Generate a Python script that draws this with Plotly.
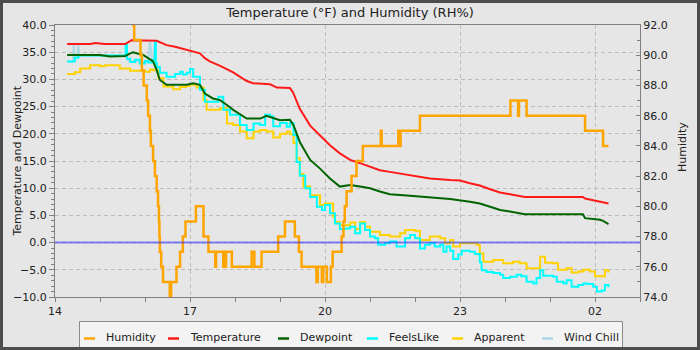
import pandas as pd
import plotly.graph_objects as go

# ---------------- data (hours since midnight of first day) ----------------
HUM_T = [14.27, 15.74, 15.76, 15.90, 15.93, 15.97, 16.04, 16.07, 16.11, 16.13, 16.18, 16.22,
         16.26, 16.29, 16.31, 16.32, 16.33, 16.36, 16.40, 16.55, 16.58, 16.70, 16.78, 16.84,
         16.90, 17.13, 17.30, 17.41, 17.56, 17.58, 17.74, 17.76, 17.78, 17.80, 17.93, 18.37,
         18.43, 18.59, 18.96, 19.11, 19.33, 19.42, 19.48, 19.81, 19.84, 19.93, 19.96, 20.04,
         20.13, 20.17, 20.37, 20.41, 20.44, 20.48, 20.59, 20.70, 20.84, 21.24, 21.26, 21.63,
         21.65, 21.68, 22.11, 24.12, 24.29, 24.31, 24.48, 25.78, 26.18, 26.30]
HUM_V = [95, 92, 91, 90, 89, 88, 87, 86, 85, 84, 83, 82,
         81, 80, 79, 78, 77, 76, 75, 74, 75, 76, 77, 78,
         79, 80, 78, 77, 76, 77, 76, 77, 76, 77, 76, 77,
         76, 77, 78, 79, 78, 77, 76, 75, 76, 75, 76, 75,
         76, 77, 78, 79, 80, 81, 82, 83, 84, 85, 84, 85,
         84, 85, 86, 87, 86, 87, 86, 85, 84, 84]

TEMP_T = [14.27, 14.78, 14.90, 15.10, 15.56, 15.70, 16.26, 16.48, 16.67, 16.93, 17.22, 17.33,
          17.44, 17.67, 17.96, 18.26, 18.40, 18.78, 18.93, 19.22, 19.29, 19.44, 19.67, 19.89,
          20.11, 20.33, 20.56, 20.78, 21.00, 21.22, 21.44, 21.89, 22.33, 22.78, 23.00, 23.22,
          23.44, 23.67, 23.89, 24.11, 24.44, 25.73, 25.78, 25.96, 26.18, 26.30]
TEMP_V = [36.5, 36.5, 36.7, 36.5, 36.5, 37.2, 37.1, 36.3, 36.0, 35.4, 34.8, 33.9,
          33.3, 32.5, 31.3, 29.7, 29.3, 29.1, 28.5, 28.4, 27.6, 24.6, 21.5, 19.7,
          17.9, 16.4, 15.2, 14.6, 14.0, 13.3, 13.0, 12.4, 11.8, 11.5, 11.4, 10.9,
          10.5, 9.8, 9.2, 8.9, 8.4, 8.4, 8.1, 7.8, 7.5, 7.2]

DEW_T = [14.27, 15.00, 15.22, 15.56, 15.73, 15.96, 16.18, 16.26, 16.33, 16.48, 16.93, 17.07,
         17.22, 17.33, 17.51, 17.67, 17.82, 17.96, 18.26, 18.56, 18.70, 19.00, 19.22, 19.30,
         19.44, 19.67, 19.89, 20.11, 20.33, 20.56, 20.78, 21.00, 21.22, 21.44, 21.89, 22.33,
         22.78, 23.22, 23.44, 23.67, 23.89, 24.11, 24.44, 25.73, 25.78, 26.11, 26.18, 26.30]
DEW_V = [34.5, 34.5, 34.2, 34.3, 35.0, 34.5, 33.3, 31.7, 29.9, 29.0, 29.0, 29.3,
         29.0, 27.4, 26.5, 26.2, 25.3, 24.4, 22.8, 22.8, 23.3, 22.5, 22.6, 21.6,
         18.5, 15.2, 13.6, 11.8, 10.3, 10.6, 10.3, 10.0, 9.4, 8.9, 8.6, 8.3,
         8.0, 7.5, 7.2, 6.6, 6.0, 5.7, 5.2, 5.2, 4.5, 4.2, 4.0, 3.4]

FEELS_T = [14.27, 14.38, 14.44, 14.52, 15.56, 15.57, 15.60, 15.67, 15.78, 15.89, 16.00, 16.07,
           16.18, 16.22, 16.24, 16.26, 16.33, 16.48, 16.62, 16.67, 16.78, 16.84, 16.93, 17.00,
           17.07, 17.22, 17.33, 17.52, 17.63, 17.74, 17.89, 18.11, 18.26, 18.41, 18.56, 18.67,
           18.78, 18.85, 19.00, 19.15, 19.22, 19.30, 19.37, 19.44, 19.56, 19.67, 19.82, 19.93,
           20.00, 20.11, 20.22, 20.33, 20.44, 20.56, 20.67, 20.78, 20.89, 21.00, 21.11, 21.18,
           21.33, 21.44, 21.59, 21.78, 21.89, 22.00, 22.11, 22.22, 22.33, 22.44, 22.56, 22.63,
           22.70, 22.78, 22.85, 22.96, 23.04, 23.22, 23.33, 23.44, 23.48, 23.59, 23.74, 23.89,
           23.96, 24.11, 24.26, 24.36, 24.48, 24.63, 24.70, 24.78, 24.85, 25.07, 25.15, 25.30,
           25.37, 25.48, 25.63, 25.74, 25.84, 25.96, 26.04, 26.15, 26.22, 26.30]
FEELS_V = [33.3, 33.3, 34.0, 34.4, 34.4, 36.4, 33.8, 33.2, 33.6, 32.9, 33.4, 33.1,
           33.6, 36.8, 33.0, 32.3, 31.2, 30.5, 30.5, 31.0, 31.4, 30.9, 31.2, 31.9,
           30.5, 28.1, 25.9, 25.9, 26.8, 24.4, 23.5, 21.6, 20.7, 21.9, 21.6, 23.5,
           23.2, 21.4, 22.0, 21.3, 22.0, 19.8, 14.8, 12.3, 10.0, 8.4, 6.6, 6.0,
           6.9, 5.4, 3.5, 2.5, 2.6, 2.9, 1.7, 3.5, 2.3, 1.1, 0.8, -0.4,
           -0.1, 0.2, -0.7, 0.8, 1.4, 0.8, -1.1, -0.4, -0.1, -0.7, -0.4, -1.7,
           -0.7, -1.5, -3.0, -2.2, -1.5, -1.7, -2.1, -3.6, -5.1, -5.4, -5.6, -5.9,
           -6.5, -6.3, -5.9, -6.2, -7.2, -7.5, -6.5, -5.1, -6.1, -6.3, -7.2, -7.5,
           -6.9, -8.1, -7.8, -7.5, -7.6, -8.1, -9.0, -8.8, -7.8, -8.2]

APP_T = [14.27, 14.44, 14.56, 14.78, 15.00, 15.11, 15.22, 15.44, 15.67, 15.89, 16.00, 16.11,
         16.18, 16.30, 16.41, 16.63, 16.78, 16.91, 17.00, 17.15, 17.30, 17.37, 17.59, 17.67,
         17.82, 17.96, 18.11, 18.26, 18.41, 18.56, 18.70, 18.85, 19.00, 19.15, 19.22, 19.30,
         19.37, 19.44, 19.52, 19.67, 19.89, 20.00, 20.18, 20.22, 20.33, 20.44, 20.56, 20.67,
         20.78, 20.89, 21.00, 21.22, 21.44, 21.67, 21.78, 22.00, 22.11, 22.33, 22.56, 22.67,
         22.78, 22.85, 23.00, 23.22, 23.37, 23.44, 23.52, 23.74, 23.96, 24.18, 24.33, 24.48,
         24.67, 24.78, 24.89, 25.07, 25.18, 25.37, 25.48, 25.63, 25.74, 25.89, 26.00, 26.11,
         26.22, 26.30]
APP_V = [31.0, 31.3, 32.0, 32.6, 32.4, 32.6, 32.6, 32.0, 31.6, 31.6, 31.4, 31.8,
         31.7, 30.2, 28.7, 28.2, 28.6, 28.8, 29.0, 28.5, 26.2, 24.4, 24.4, 24.7,
         21.9, 21.6, 20.4, 19.2, 20.4, 20.7, 20.4, 19.3, 20.0, 20.4, 19.9, 18.3,
         15.5, 12.6, 10.3, 8.7, 6.9, 7.2, 4.8, 3.8, 3.2, 3.2, 3.7, 2.5,
         3.8, 2.9, 2.0, 1.4, 1.1, 1.7, 2.3, 2.2, 0.5, 1.1, 0.8, -0.1,
         0.5, -0.7, -0.1, -0.1, -0.4, -2.0, -3.5, -3.2, -3.8, -3.5, -3.8, -4.7,
         -4.7, -2.6, -3.7, -3.8, -5.0, -4.7, -5.5, -5.3, -5.0, -5.3, -6.2, -6.2,
         -5.1, -5.5]

WC_T = [14.27, 14.40, 14.42, 14.43, 14.50, 14.52, 14.54, 15.56, 15.60, 15.67, 15.78, 15.89,
        16.00, 16.07, 16.11, 16.16, 16.20, 16.22, 16.24, 16.26, 16.33]
WC_V = [33.3, 33.3, 36.4, 33.8, 34.3, 36.4, 34.4, 34.4, 33.8, 33.2, 33.6, 32.9,
        33.4, 33.1, 37.0, 33.5, 33.6, 37.0, 33.0, 32.3, 31.2]

LEGEND_NAMES = ["Humidity", "Temperature", "Dewpoint", "FeelsLike", "Apparent", "Wind Chill"]
COLORS = {"Humidity": "#FFA500", "Temperature": "#FF1A1A", "Dewpoint": "#006400",
          "FeelsLike": "#00FFFF", "Apparent": "#FFD200", "Wind Chill": "#ADD8E6"}

BASE = pd.Timestamp("2021-01-14 00:00")


def to_dt(hours):
    return [BASE + pd.Timedelta(hours=h) for h in hours]


fig = go.Figure()
LW = 2
# JFreeChart draws last series first -> add in reverse so Humidity is on top
fig.add_trace(go.Scatter(x=to_dt(WC_T), y=WC_V, mode="lines", name="Wind Chill",
                         line=dict(color=COLORS["Wind Chill"], width=LW)))
fig.add_trace(go.Scatter(x=to_dt(APP_T), y=APP_V, mode="lines", name="Apparent",
                         line=dict(color=COLORS["Apparent"], width=LW, shape="hv")))
fig.add_trace(go.Scatter(x=to_dt(FEELS_T), y=FEELS_V, mode="lines", name="FeelsLike",
                         line=dict(color=COLORS["FeelsLike"], width=LW, shape="hv")))
fig.add_trace(go.Scatter(x=to_dt(DEW_T), y=DEW_V, mode="lines", name="Dewpoint",
                         line=dict(color=COLORS["Dewpoint"], width=LW)))
fig.add_trace(go.Scatter(x=to_dt(TEMP_T), y=TEMP_V, mode="lines", name="Temperature",
                         line=dict(color=COLORS["Temperature"], width=LW)))
fig.add_trace(go.Scatter(x=to_dt(HUM_T), y=HUM_V, mode="lines", name="Humidity", yaxis="y2",
                         line=dict(color=COLORS["Humidity"], width=2.5, shape="hv")))

# ---------------- layout geometry (pixels) ----------------
W, H = 700, 350
L, R, T, B = 55, 60, 25, 53
PW, PH = W - L - R, H - T - B


def px(xp):
    return (xp - L) / PW


def py(yp):
    return (H - B - yp) / PH


FONT = "DejaVu Sans"
AXC = "#808080"
GRID = "#bdbdbd"

shapes = []
# zero marker
shapes.append(dict(type="line", xref="paper", yref="y", x0=0, x1=1, y0=0, y1=0,
                   line=dict(color="rgba(40,40,255,0.55)", width=2), layer="above"))
# legend box
shapes.append(dict(type="rect", xref="paper", yref="paper", x0=px(79.5), x1=px(622.5),
                   y0=py(352), y1=py(321.5), fillcolor="#f3f3f3",
                   line=dict(color="#8a8a8a", width=1), layer="above"))
annotations = []
leg_x = [84, 168, 278, 367, 452, 542]
ly = 338.5
for name, x0 in zip(LEGEND_NAMES, leg_x):
    shapes.append(dict(type="line", xref="paper", yref="paper", x0=px(x0), x1=px(x0 + 11),
                       y0=py(ly), y1=py(ly), line=dict(color=COLORS[name], width=2.5),
                       layer="above"))
    annotations.append(dict(xref="paper", yref="paper", x=px(x0 + 20), y=py(ly - 1),
                            text=name, showarrow=False, xanchor="left", yanchor="middle",
                            font=dict(family=FONT, size=11, color="#222")))
# axis titles as rotated annotations (exact placement)
annotations.append(dict(xref="paper", yref="paper", x=px(16.5), y=0.5, text="Temperature and Dewpoint",
                        textangle=-90, showarrow=False, xanchor="center", yanchor="middle",
                        font=dict(family=FONT, size=11, color="#222")))
annotations.append(dict(xref="paper", yref="paper", x=px(682), y=py(147), text="Humidity",
                        textangle=-90, showarrow=False, xanchor="center", yanchor="middle",
                        font=dict(family=FONT, size=11, color="#222")))
# outer frame
shapes.append(dict(type="rect", xref="paper", yref="paper", x0=px(1.5), x1=px(698.5),
                   y0=py(348.5), y1=py(1.5), line=dict(color="#4d4d4d", width=3),
                   fillcolor="rgba(0,0,0,0)", layer="above"))

fig.update_layout(
    width=W, height=H,
    margin=dict(l=L, r=R, t=T, b=B, autoexpand=False),
    paper_bgcolor="#e6e6e6", plot_bgcolor="#e6e6e6",
    showlegend=False,
    font=dict(family=FONT, size=11, color="#222"),
    title=dict(text="Temperature (°F) and Humidity (RH%)", x=0.5, xanchor="center",
               y=1 - 12.5 / H, yanchor="middle", font=dict(family=FONT, size=13, color="#222"),
               automargin=False),
    xaxis=dict(type="date", range=[BASE + pd.Timedelta(hours=14), BASE + pd.Timedelta(hours=27)],
               tick0=BASE + pd.Timedelta(hours=14), dtick=3 * 3600 * 1000, tickformat="%H",
               ticks="outside", ticklen=4, tickcolor=AXC, showline=True, linecolor=AXC,
               mirror=True, showgrid=True, gridcolor=GRID, griddash="4px,3px", gridwidth=1,
               minor=dict(dtick=3600 * 1000, ticks="outside", ticklen=4, tickcolor=AXC,
                          showgrid=False),
               tickfont=dict(family=FONT, size=11, color="#222"), zeroline=False,
               automargin=False),
    yaxis=dict(range=[-10, 40], dtick=5, tick0=0, tickformat=".1f", ticks="outside", ticklen=5,
               tickcolor=AXC, showline=True, linecolor=AXC, showgrid=True, gridcolor=GRID,
               griddash="4px,3px", zeroline=False, automargin=False,
               minor=dict(dtick=1, ticks="outside", ticklen=3, tickcolor=AXC, showgrid=False),
               tickfont=dict(family=FONT, size=11, color="#222")),
    yaxis2=dict(range=[74, 92], dtick=2, tick0=74, tickformat=".1f", overlaying="y", side="right",
                ticks="inside", ticklen=4, tickcolor=AXC, showline=True, linecolor=AXC,
                showgrid=False, zeroline=False, automargin=False,
                minor=dict(dtick=1, ticks="inside", ticklen=3, tickcolor=AXC, showgrid=False),
                tickfont=dict(family=FONT, size=11, color="#222")),
    shapes=shapes,
    annotations=annotations,
)

fig.write_html("out.html")
